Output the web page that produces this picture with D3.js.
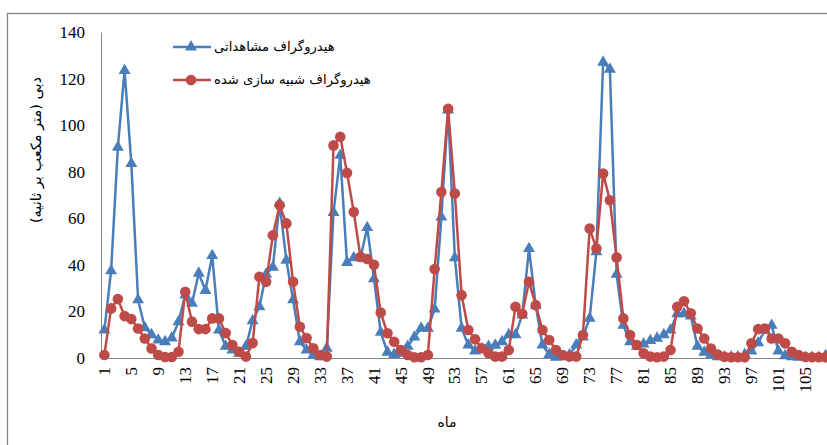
<!DOCTYPE html>
<html>
<head>
<meta charset="utf-8">
<script src="https://cdn.jsdelivr.net/npm/d3@7"></script>
<style>
  html, body { margin: 0; padding: 0; background: #fff; }
  svg { display: block; }
</style>
</head>
<body>
<svg id="chart" width="827" height="445"></svg>
<script>
// Monthly discharge (m³/s): observed vs simulated hydrograph
const months = d3.range(1, 109);
const xTickLabels = [1, 5, 9, 13, 17, 21, 25, 29, 33, 37, 41, 45, 49, 53, 57, 61, 65, 69, 73, 77, 81, 85, 89, 93, 97, 101, 105];
const yTickLabels = [0, 20, 40, 60, 80, 100, 120, 140];

const observed = [
  12, 37.5, 90.5, 123.5, 83.5, 25, 13, 10, 7.7, 7, 8.6, 15.5,
  27, 23.5, 36.4, 29, 44, 12, 5, 3.4, 2, 5, 16, 22,
  36, 39, 66.4, 42, 25, 7, 3.4, 1.3, 0.5, 4.2, 62.5, 87,
  41, 43, 43, 56, 34, 11, 2.5, 1.5, 2, 5, 9, 12.8,
  12.8, 21, 60.5, 106.5, 43, 12.8, 5.6, 3, 4, 5, 5.5, 7,
  10, 10, 18.5, 47, 22.5, 5.6, 1.5, 0.3, 0.5, 1.3, 5.6, 9,
  17, 45.6, 127, 124, 36, 14, 7, 5, 6, 7.5, 8.5, 10,
  12, 19, 19, 18, 5, 2.5, 1.3, 0.5, 0.5, 0.5, 0.5, 1.5,
  3, 6.5, 12, 14, 3, 1, 0.5, 0.3, 0.3, 0.3, 0.3, 1
];

const simulated = [
  1.3, 21.3, 25.3, 18, 16.7, 12.7, 8.4, 4.1, 1.3, 0.4, 0.4, 2.7,
  28.4, 15.6, 12.4, 12.4, 17, 17, 10.7, 5.6, 2.7, 0.6, 6.4, 34.9,
  32.7, 52.7, 65.6, 57.8, 32.7, 13.4, 8.6, 4.2, 1.3, 0.6, 91.3, 95,
  79.5, 62.7, 43.4, 42.5, 40, 19.5, 10.6, 7, 3.4, 1.3, 0.3, 0.3,
  1.3, 38.2, 71.3, 107, 70.6, 27, 12, 8, 4.2, 2, 0.6, 0.6,
  3.4, 22, 19, 32.7, 22.7, 12, 7.7, 3.4, 1.3, 0.6, 0.6, 9.9,
  55.6, 47, 79.2, 67.7, 43.2, 17, 9.9, 5.6, 2, 0.6, 0.3, 0.6,
  3.4, 22, 24.4, 19.2, 12.7, 8.4, 4.1, 1.5, 0.5, 0.3, 0.3, 0.3,
  6.3, 12.4, 12.7, 8.4, 8.4, 6.3, 2.7, 1.3, 0.4, 0.3, 0.3, 0.3
];

const seriesNames = ["هیدروگراف مشاهداتی", "هیدروگراف شبیه سازی شده"];
const yTitle = "دبی (متر مکعب بر ثانیه)";
const xTitle = "ماه";

const BLUE = "#4a7ebb";
const RED = "#be4b48";
const AXIS = "#868686";

const svg = d3.select("#chart");

// outer chart frame
svg.append("rect")
  .attr("x", 7.5).attr("y", 13.5)
  .attr("width", 900).attr("height", 600)
  .attr("fill", "none").attr("stroke", AXIS).attr("stroke-width", 1.3);

const plotLeft = 101, plotTop = 32, plotBottom = 358;
const x = d3.scaleBand().domain(months).range([plotLeft, plotLeft + 108 * 6.74]).padding(0);
const y = d3.scaleLinear().domain([0, 140]).range([plotBottom, plotTop]);
const cx = m => x(m) + x.bandwidth() / 2;

// y axis
const yAxis = svg.append("g")
  .attr("transform", `translate(${plotLeft},0)`)
  .call(d3.axisLeft(y).tickValues(yTickLabels).tickSize(0).tickPadding(16));
yAxis.select(".domain").attr("stroke", AXIS).attr("stroke-width", 1);
yAxis.selectAll("text")
  .attr("font-family", "'Liberation Serif', 'Times New Roman', serif")
  .attr("font-size", 17).attr("fill", "#000");

// x axis
const xAxis = svg.append("g")
  .attr("transform", `translate(0,${plotBottom})`)
  .call(d3.axisBottom(x).tickValues(xTickLabels).tickSize(0).tickPadding(0));
xAxis.select(".domain").attr("stroke", AXIS).attr("stroke-width", 1);
xAxis.selectAll("text")
  .attr("font-family", "'Liberation Serif', 'Times New Roman', serif")
  .attr("font-size", 17).attr("fill", "#000")
  .attr("text-anchor", "end")
  .attr("dy", "0.33em")
  .attr("transform", "translate(0,9) rotate(-90)")
  .attr("y", 0).attr("x", 0);

// axis titles
svg.append("text")
  .attr("transform", "translate(41,150) rotate(-90)")
  .attr("text-anchor", "middle")
  .attr("direction", "rtl")
  .attr("font-family", "'DejaVu Sans', sans-serif")
  .attr("font-size", 14.5)
  .text(yTitle);

svg.append("text")
  .attr("x", 447).attr("y", 427)
  .attr("text-anchor", "middle")
  .attr("font-family", "'DejaVu Sans', sans-serif")
  .attr("font-size", 14)
  .text(xTitle);

const line = d3.line().x((d, i) => cx(months[i])).y(d => y(d));
const tri = d3.symbol().type(d3.symbolTriangle).size(62);

// observed series
svg.append("path").datum(observed)
  .attr("d", line).attr("fill", "none")
  .attr("stroke", BLUE).attr("stroke-width", 2.5).attr("stroke-linejoin", "round");
svg.append("g").selectAll("path").data(observed).join("path")
  .attr("d", tri)
  .attr("transform", (d, i) => `translate(${cx(months[i])},${y(d)})`)
  .attr("fill", BLUE);

// simulated series
svg.append("path").datum(simulated)
  .attr("d", line).attr("fill", "none")
  .attr("stroke", RED).attr("stroke-width", 2.5).attr("stroke-linejoin", "round");
svg.append("g").selectAll("circle").data(simulated).join("circle")
  .attr("cx", (d, i) => cx(months[i]))
  .attr("cy", d => y(d))
  .attr("r", 5.3)
  .attr("fill", RED);

// legend
const legend = svg.append("g");
const legendRows = [
  { name: seriesNames[0], color: BLUE, mark: "tri", y: 47 },
  { name: seriesNames[1], color: RED, mark: "circle", y: 80 }
];
legendRows.forEach(r => {
  legend.append("line")
    .attr("x1", 173).attr("x2", 211).attr("y1", r.y).attr("y2", r.y)
    .attr("stroke", r.color).attr("stroke-width", 2.5);
  if (r.mark === "tri") {
    legend.append("path").attr("d", tri)
      .attr("transform", `translate(191,${r.y})`).attr("fill", r.color);
  } else {
    legend.append("circle").attr("cx", 191).attr("cy", r.y).attr("r", 5.3).attr("fill", r.color);
  }
  legend.append("text")
    .attr("x", 214).attr("y", r.y + 4)
    .attr("text-anchor", "start")
    .attr("font-family", "'DejaVu Sans', sans-serif")
    .attr("font-size", 13.2)
    .text(r.name);
});
</script>
</body>
</html>
